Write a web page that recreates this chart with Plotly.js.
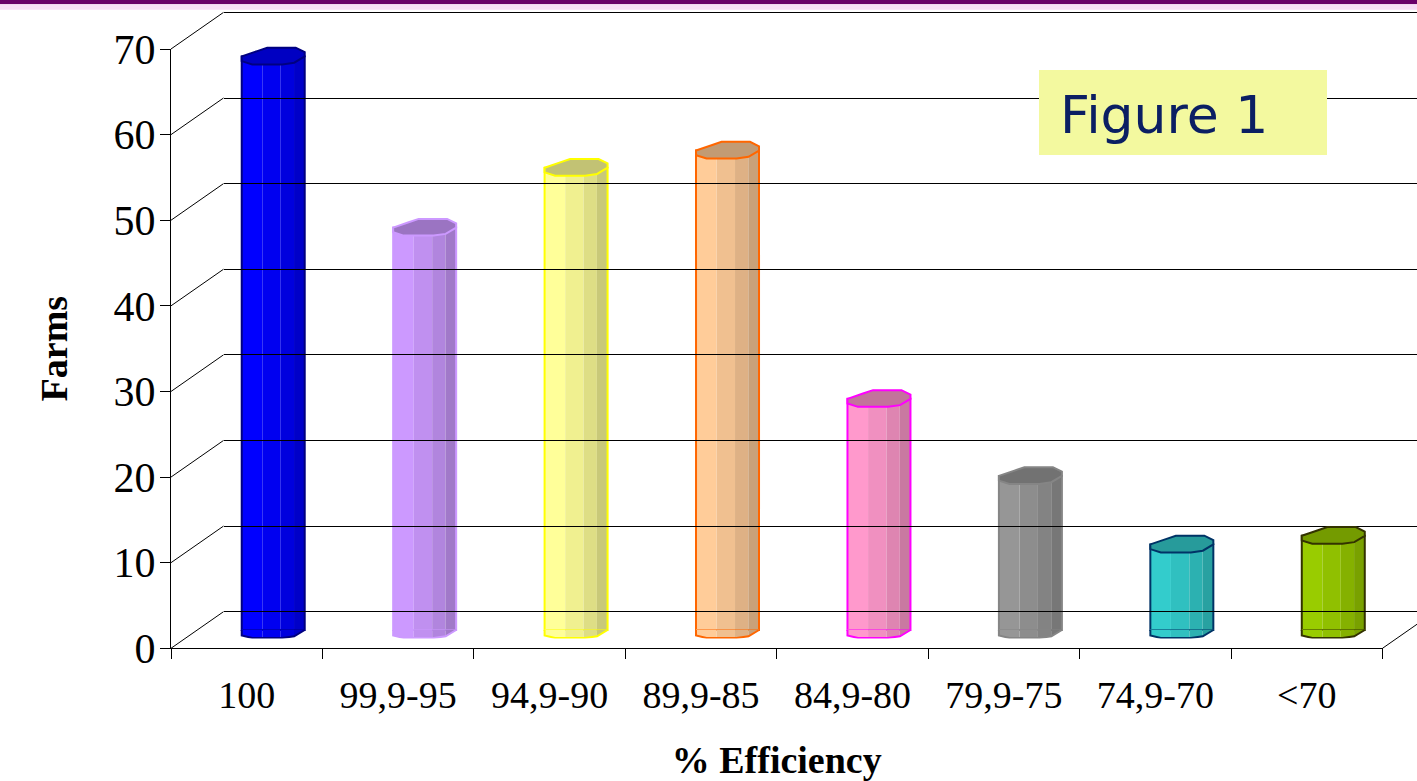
<!DOCTYPE html>
<html><head><meta charset="utf-8">
<script src="https://cdn.plot.ly/plotly-3.0.1.min.js"></script>
<style>html,body{margin:0;padding:0;background:#fff;} #chart{width:1417px;height:781px;}</style>
</head><body><div id="chart"></div>
<script>
// ---- data ----
const categories = ["100", "99,9-95", "94,9-90", "89,9-85", "84,9-80", "79,9-75", "74,9-70", "<70"];
const farms = [67, 47, 54, 56, 27, 18, 10, 11];
const fillColors = ["#0000ff", "#cc99ff", "#ffff99", "#ffcc99", "#ff99cc", "#969696", "#33cccc", "#99cc00"];
const edgeColors = ["#000080", "#cc99ff", "#ffff00", "#ff6600", "#ff00ff", "#858585", "#003366", "#333300"];
const yTickValues = [0, 10, 20, 30, 40, 50, 60, 70];
const xTitle = "% Efficiency";
const yTitle = "Farms";
const figureLabel = "Figure 1";

// ---- geometry (pixels) ----
const W = 1417, H = 781;
const FRONT = {left: 171, right: 1382.5, bottom: 648.3, top: 49};
const BACK = {left: 223.5, bottom: 611.7, top: 13.5};
const DEPTH = {dx: BACK.left - FRONT.left, dy: FRONT.bottom - BACK.bottom};
const BAR = {base: 630, dx: 26.5, half: 31.5};
const yMax = yTickValues[yTickValues.length - 1];
const pxPerUnit = (FRONT.bottom - FRONT.top) / yMax;
const S = (FRONT.right - FRONT.left) / categories.length;

const px = x => x / W;
const py = y => 1 - y / H;
function domainFor(pxZero, rmin, rmax) {
  return [py(pxZero - rmin * pxPerUnit), py(pxZero - rmax * pxPerUnit)];
}
function shade(hex, f) {
  const n = parseInt(hex.slice(1), 16);
  const c = [(n >> 16) & 255, (n >> 8) & 255, n & 255].map(v => Math.max(0, Math.min(255, Math.round(v * f))));
  return 'rgb(' + c.join(',') + ')';
}
function pathOf(pts, close) {
  return 'M ' + pts.map(p => p[0].toFixed(2) + ' ' + p[1].toFixed(2)).join(' L ') + (close ? ' Z' : '');
}

// facets of the prism (relative to bar centre, px)
const facetEdges = [-31.5, -10.9, 7.5, 20.8, 31.5];
const facetShade = [1.0, 0.94, 0.87, 0.79];
// top face (relative to value point, y up)
const capPts = [[-31.5, 0], [-16, 5.3], [-6, 8.7], [22.5, 8.7], [31.5, 4.3], [31.5, 0], [21, -6.3], [9, -8], [-21, -8], [-31.5, -4.7]];
// bottom front curve
const botCurve = [[-31.5, -5.5], [-21, -8], [9, -8], [21, -6.3], [31.5, 0]];
function botY(x) {
  for (let i = 0; i < botCurve.length - 1; i++) {
    const a = botCurve[i], b = botCurve[i + 1];
    if (x >= a[0] - 1e-9 && x <= b[0] + 1e-9) return a[1] + (b[1] - a[1]) * (x - a[0]) / (b[0] - a[0]);
  }
  return 0;
}

const traces = [];
// registers the front subplot (axes only)
traces.push({type: 'scatter', x: [], y: [], xaxis: 'x', yaxis: 'y', showlegend: false, hoverinfo: 'skip'});
for (let k = 0; k < 4; k++) {
  traces.push({
    type: 'bar', x: categories, y: farms, xaxis: 'x', yaxis: 'y3',
    offset: (BAR.dx + facetEdges[k]) / S, width: (facetEdges[k + 1] - facetEdges[k]) / S,
    marker: {color: fillColors.map(c => shade(c, facetShade[k])), line: {width: 0}},
    hoverinfo: 'x+y', showlegend: false
  });
}
traces.push({
  type: 'bar', x: categories, y: farms, xaxis: 'x', yaxis: 'y3',
  offset: (BAR.dx - BAR.half) / S, width: (2 * BAR.half) / S,
  marker: {color: 'rgba(0,0,0,0)', line: {color: edgeColors, width: 2}},
  hoverinfo: 'skip', showlegend: false
});
traces.push({type: 'scatter', x: [], y: [], xaxis: 'x2', yaxis: 'y2', showlegend: false, hoverinfo: 'skip'});

const shapes = [];
// top band
shapes.push({type: 'rect', xref: 'paper', yref: 'paper', x0: 0, x1: 1, y0: py(4.3), y1: 1, fillcolor: '#690069', line: {width: 0}, layer: 'above'});
shapes.push({type: 'rect', xref: 'paper', yref: 'paper', x0: 0, x1: 1, y0: py(9.8), y1: py(4.3), fillcolor: '#f7def6', line: {width: 0}, layer: 'above'});
// side wall diagonals
yTickValues.forEach(v => {
  shapes.push({type: 'line', xref: 'paper', yref: 'paper', xsizemode: 'pixel', ysizemode: 'pixel',
    xanchor: px(FRONT.left), yanchor: py(FRONT.bottom - v * pxPerUnit), x0: 0, x1: DEPTH.dx, y0: 0, y1: DEPTH.dy,
    line: {color: '#000', width: 1}, layer: 'below'});
});
// floor right edge
shapes.push({type: 'line', xref: 'paper', yref: 'paper', xsizemode: 'pixel', ysizemode: 'pixel',
  xanchor: px(FRONT.right), yanchor: py(FRONT.bottom), x0: 0, x1: DEPTH.dx, y0: 0, y1: DEPTH.dy,
  line: {color: '#000', width: 1}, layer: 'below'});

// bar caps and bottoms (anchored at category index and value through the axes)
categories.forEach((cat, i) => {
  const base = {xref: 'x', yref: 'y3', xsizemode: 'pixel', ysizemode: 'pixel', xanchor: i, layer: 'above'};
  for (let k = 0; k < 4; k++) {
    const xa = facetEdges[k], xb = facetEdges[k + 1];
    const pts = [[xa, 0.5], [xb, 0.5]];
    pts.push([xb, botY(xb)]);
    for (let j = botCurve.length - 1; j >= 0; j--) {
      if (botCurve[j][0] < xb && botCurve[j][0] > xa) pts.push(botCurve[j]);
    }
    pts.push([xa, botY(xa)]);
    shapes.push(Object.assign({}, base, {type: 'path', yanchor: 0,
      path: pathOf(pts.map(p => [p[0] + BAR.dx, p[1]]), true),
      fillcolor: shade(fillColors[i], facetShade[k]), line: {width: 0}}));
  }
  shapes.push(Object.assign({}, base, {type: 'path', yanchor: 0,
    path: pathOf([[-BAR.half, 0]].concat(botCurve).map(p => [p[0] + BAR.dx, p[1]]), false),
    fillcolor: 'rgba(0,0,0,0)', line: {color: edgeColors[i], width: 2}}));
  shapes.push(Object.assign({}, base, {type: 'path', yanchor: farms[i],
    path: pathOf(capPts.map(p => [p[0] + BAR.dx, p[1]]), true),
    fillcolor: shade(fillColors[i], 0.76), line: {color: edgeColors[i], width: 2}}));
});
// Figure label box
shapes.push({type: 'rect', xref: 'paper', yref: 'paper', x0: px(1039), x1: px(1327), y0: py(155), y1: py(70),
  fillcolor: '#f3f99f', line: {width: 0}, layer: 'above'});

const serif = 'Liberation Serif, Times New Roman, serif';
const layout = {
  width: W, height: H, autosize: false,
  margin: {l: 0, r: 0, t: 0, b: 0, pad: 0},
  paper_bgcolor: '#ffffff', plot_bgcolor: 'rgba(0,0,0,0)',
  showlegend: false, barmode: 'overlay',
  xaxis: {
    type: 'category', domain: [px(FRONT.left), px(FRONT.right)], range: [-0.5, categories.length - 0.5],
    anchor: 'y', showline: true, linecolor: '#000', linewidth: 1, showgrid: false, zeroline: false,
    ticks: 'outside', ticklen: 10, tickcolor: '#000', tickwidth: 1, tickson: 'boundaries',
    tickfont: {family: serif, size: 38, color: '#000'}, ticklabelstandoff: 13,
    title: {text: xTitle, font: {family: serif, size: 38, color: '#000', weight: 'bold'}, standoff: 31}
  },
  yaxis: {
    domain: domainFor(FRONT.bottom, 0, yMax), range: [0, yMax], anchor: 'x',
    tickvals: yTickValues, showline: true, linecolor: '#000', linewidth: 1, showgrid: false, zeroline: false,
    ticks: 'outside', ticklen: 10, tickcolor: '#000', tickwidth: 1,
    tickfont: {family: serif, size: 42, color: '#000'}, ticklabelstandoff: -4,
    title: {text: yTitle, font: {family: serif, size: 38, color: '#000', weight: 'bold'}, standoff: 34}
  },
  xaxis2: {domain: [px(BACK.left), 1], anchor: 'y2', range: [0, 1], visible: false, fixedrange: true},
  yaxis2: {
    domain: [py(BACK.bottom + 1 * pxPerUnit), py(BACK.bottom - 71 * pxPerUnit)], range: [-1, 71], anchor: 'x2',
    tickvals: yTickValues, showticklabels: false, ticks: '', showgrid: true, gridcolor: '#000', gridwidth: 1,
    zeroline: false, showline: false
  },
  yaxis3: {
    domain: domainFor(BAR.base, -1, yMax), range: [-1, yMax], anchor: 'x',
    visible: false, showgrid: false, zeroline: false
  },
  shapes: shapes,
  annotations: [{
    xref: 'paper', yref: 'paper', x: px(1058), y: py(115), xanchor: 'left', yanchor: 'middle',
    text: figureLabel, showarrow: false,
    font: {family: 'DejaVu Sans, Verdana, sans-serif', size: 52, color: '#0b1f63'}
  }]
};
Plotly.newPlot('chart', traces, layout, {displayModeBar: false, staticPlot: true});
</script></body></html>
